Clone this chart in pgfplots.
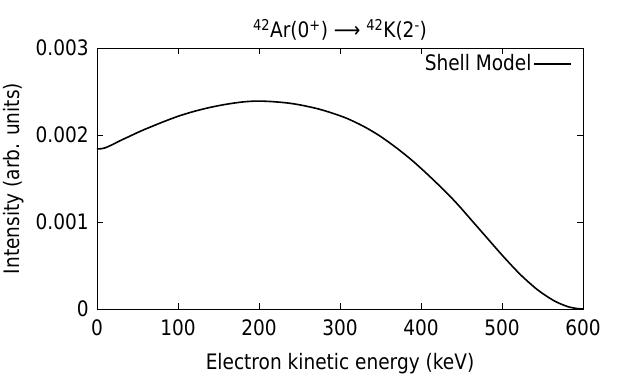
\documentclass[border=0pt]{standalone}
\usepackage{fontspec}
\setmainfont{DejaVu Sans}[FakeStretch=0.87]
\usepackage{pgfplots}
\pgfplotsset{compat=1.18}
\begin{document}
\fontsize{21.3}{25}\selectfont
\begin{tikzpicture}
\useasboundingbox (-97pt,-80pt) rectangle (521pt,309pt);
\begin{axis}[
  at={(0pt,0pt)}, anchor=south west,
  scale only axis, width=486pt, height=261pt,
  xmin=0, xmax=600, ymin=0, ymax=0.003,
  xtick={0,100,...,600},
  ytick={0,0.001,0.002,0.003},
  yticklabels={0,0.001,0.002,0.003},
  scaled y ticks=false,
  tick align=inside, major tick length=6pt,
  minor tick num=0,
  axis line style={line width=0.8pt},
  every tick/.style={line width=0.8pt, black},
  /pgf/number format/assume math mode=true,
  xticklabel style={yshift=-3pt},
  yticklabel style={xshift=-1pt},
  xlabel={Electron kinetic energy (keV)},
  ylabel={Intensity (arb. units)},
  xlabel style={yshift=-4pt},
  ylabel style={yshift=-3pt},
  title={\textsuperscript{42}Ar(0\textsuperscript{+}) ⟶ \textsuperscript{42}K(2\textsuperscript{-})},
  title style={yshift=-6pt},
  legend style={draw=none, fill=none, at={(1,1)}, anchor=north east, xshift=-8pt, yshift=-2pt, font=\fontsize{21.3}{25}\selectfont},
  legend plot pos=right,
  legend cell align=right,
  legend image code/.code={\draw[#1, line width=1.3pt] (0pt,0pt) -- (37pt,0pt);},
]
\addplot[black, line width=1.6pt, smooth] coordinates {
(0,0.001840) (5,0.001842) (10,0.001852) (18,0.001885) (28,0.001932) (39,0.00198)
(50,0.002028) (59,0.002065) (70,0.002107) (80,0.002145) (100,0.002215) (120,0.002272)
(140,0.002318) (160,0.002354) (180,0.00238) (197,0.00239) (215,0.0023846) (234,0.0023694)
(250,0.002347) (271,0.002305) (288,0.002259) (308,0.002193) (329,0.0021) (349,0.00199)
(370,0.00185) (390,0.0017) (411,0.001522) (432,0.001332) (446,0.001195) (462,0.001025)
(482,0.000812) (502,0.0006) (523,0.000393) (544,0.00022) (564,0.000096) (581,0.000028)
(593,0.000005) (600,0)
};
\addlegendentry{Shell Model}
\end{axis}
\end{tikzpicture}
\end{document}
